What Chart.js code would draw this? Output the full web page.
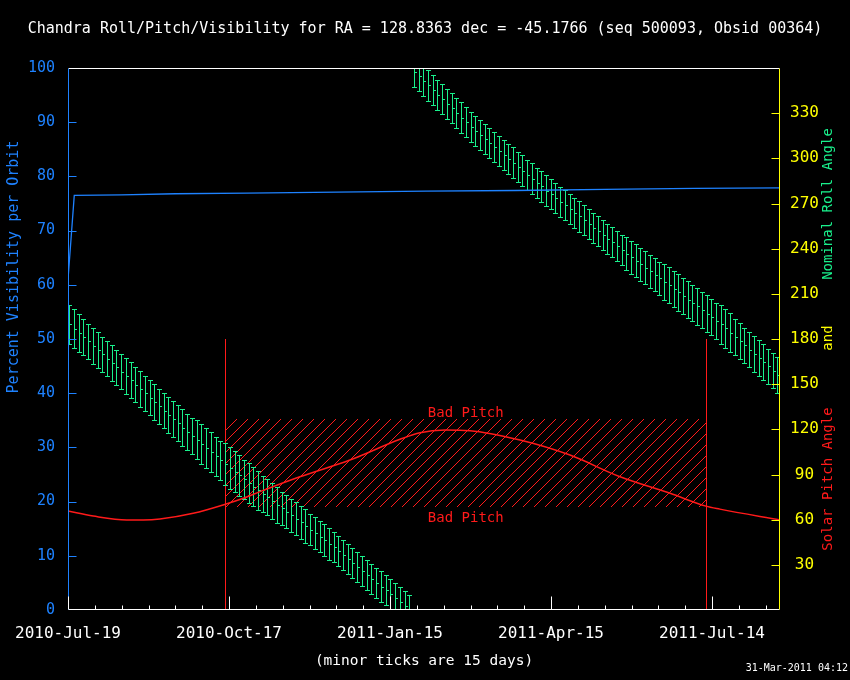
<!DOCTYPE html>
<html>
<head>
<meta charset="utf-8">
<title>Chandra Roll/Pitch/Visibility</title>
<script src="https://cdn.jsdelivr.net/npm/chart.js@4.4.1/dist/chart.umd.min.js"></script>
<style>
  html, body { margin: 0; padding: 0; background: #000; }
  canvas { display: block; background: #000; }
</style>
</head>
<body>
<canvas id="chart" width="850" height="680"></canvas>
<script>
const titleText = 'Chandra Roll/Pitch/Visibility for RA = 128.8363 dec = -45.1766 (seq 500093, Obsid 00364)';
const stampText = '31-Mar-2011 04:12';

// x axis: days since 2010-Jul-19
const dayMax = 398;
const xTickDays = [0, 90, 180, 270, 360];
const xTickLabels = ['2010-Jul-19', '2010-Oct-17', '2011-Jan-15', '2011-Apr-15', '2011-Jul-14'];
const minorTickDays = 15;

// percent visibility per orbit (left axis)
const visDays = [0, 3.5, 30, 60, 100, 150, 200, 250, 300, 350, 398];
const visPct = [61, 76.5, 76.6, 76.8, 76.9, 77.1, 77.3, 77.4, 77.6, 77.8, 77.9];

// solar pitch angle (right axis)
const pitchDays = [0, 14.1, 32.8, 42.1, 51.4, 70.0, 87.9, 98.0, 107.3, 129.6, 157.6, 185.6,
  196.8, 210.7, 224.7, 252.7, 280.6, 308.6, 336.6, 356.6, 364.4, 398];
const pitchDeg = [65.7, 62.4, 59.8, 59.8, 60.4, 64.2, 70.2, 74.2, 78.6, 88.5, 99.6, 113.4,
  117.8, 119.5, 119.1, 112.9, 102.9, 88.5, 77.5, 69.0, 67.0, 59.8];

// nominal roll angle, one bar per orbit (right axis)
const orbitDays = [
  0.7, 3.3, 6.0, 8.6, 11.3, 13.9, 16.5, 19.2, 21.8, 24.5,
  27.1, 29.7, 32.4, 35.0, 37.6, 40.3, 42.9, 45.6, 48.2, 50.8,
  53.5, 56.1, 58.8, 61.4, 64.0, 66.7, 69.3, 72.0, 74.6, 77.2,
  79.9, 82.5, 85.1, 87.8, 90.4, 93.1, 95.7, 98.3, 101.0, 103.6,
  106.3, 108.9, 111.5, 114.2, 116.8, 119.5, 122.1, 124.7, 127.4, 130.0,
  132.7, 135.3, 137.9, 140.6, 143.2, 145.8, 148.5, 151.1, 153.8, 156.4,
  159.0, 161.7, 164.3, 167.0, 169.6, 172.2, 174.9, 177.5, 180.2, 182.8,
  185.4, 188.1, 190.7, 193.3, 196.0, 198.6, 201.3, 203.9, 206.5, 209.2,
  211.8, 214.5, 217.1, 219.7, 222.4, 225.0, 227.7, 230.3, 232.9, 235.6,
  238.2, 240.9, 243.5, 246.1, 248.8, 251.4, 254.0, 256.7, 259.3, 262.0,
  264.6, 267.2, 269.9, 272.5, 275.2, 277.8, 280.4, 283.1, 285.7, 288.3,
  291.0, 293.6, 296.3, 298.9, 301.5, 304.2, 306.8, 309.5, 312.1, 314.7,
  317.4, 320.0, 322.7, 325.3, 327.9, 330.6, 333.2, 335.9, 338.5, 341.1,
  343.8, 346.4, 349.0, 351.7, 354.3, 357.0, 359.6, 362.2, 364.9, 367.5,
  370.2, 372.8, 375.4, 378.1, 380.7, 383.4, 386.0, 388.6, 391.3, 393.9,
  396.6
];
const rollDeg = [
  189.8, 186.9, 184.1, 181.2, 178.4, 175.5, 172.6, 169.8, 166.9, 164.1,
  161.2, 158.3, 155.4, 152.6, 149.7, 146.8, 143.9, 141.0, 138.2, 135.3,
  132.4, 129.5, 126.7, 124.0, 121.2, 118.5, 115.8, 113.1, 110.3, 107.6,
  104.9, 102.2, 99.5, 96.8, 94.3, 91.9, 89.4, 86.9, 84.4, 82.0,
  79.5, 77.1, 74.8, 72.4, 70.0, 67.7, 65.3, 62.9, 60.5, 58.2,
  55.8, 53.4, 51.1, 48.7, 46.3, 43.9, 41.6, 39.0, 36.4, 33.8,
  31.2, 28.6, 26.0, 23.4, 20.8, 18.2, 15.6, 13.0, 10.4, 7.8,
  5.2, 2.6, 0.0, 357.3, 354.4, 351.4, 348.4, 345.4, 342.3, 339.3,
  336.2, 333.2, 330.2, 327.1, 324.1, 321.0, 318.4, 315.7, 313.1, 310.4,
  307.8, 305.1, 302.5, 299.8, 297.2, 294.5, 291.9, 289.2, 286.6, 283.9,
  281.3, 278.6, 276.1, 273.7, 271.2, 268.8, 266.3, 263.9, 261.4, 258.9,
  256.5, 254.0, 251.6, 249.1, 246.6, 244.2, 241.7, 239.3, 236.7, 234.4,
  232.0, 229.7, 227.3, 225.0, 222.6, 220.3, 218.0, 215.6, 213.3, 210.9,
  208.6, 206.2, 203.9, 201.6, 199.2, 196.9, 194.5, 192.2, 189.8, 187.0,
  184.2, 181.4, 178.6, 175.8, 173.0, 170.2, 167.4, 164.6, 161.8, 159.0,
  156.2
];
const rollErr = [
  13, 13, 12.5, 11.8, 11.8, 11.8, 11.8, 11.8, 11.8, 11.8,
  11.8, 11.8, 11.8, 11.8, 11.8, 11.8, 11.8, 11.8, 11.8, 11.8,
  11.8, 11.8, 12, 12, 12, 12, 12, 13, 13, 13,
  13, 13, 13, 13.8, 13.8, 13.8, 13.8, 13, 13, 13,
  13, 12, 12, 12, 12, 11, 11, 11, 11, 11,
  11, 10.5, 10.5, 10.5, 10.5, 10.5, 10, 10, 10, 10,
  10, 10, 10, 10, 10, 10, 10, 10, 10, 10,
  10, 10, 10, 10, 10, 10, 10, 10, 10, 10,
  10, 10, 10, 10, 10, 10, 10, 10, 10, 10,
  10, 10, 10, 10, 10, 10, 10, 10, 10, 10,
  10, 10, 10, 10, 10, 10, 10, 10, 10, 10,
  10, 10, 10, 10, 10, 10, 10, 10, 11, 11,
  11, 11, 11, 11, 11, 11, 12, 12, 12, 12,
  12, 12, 12, 12, 12, 12, 12, 12, 12.8, 12.8,
  12.8, 11.8, 11.8, 11.8, 11.8, 11.8, 11.8, 11.8, 11.8, 11.8,
  11.8
];

// bad pitch zone
const badPitchDays = [87.9, 356.8];
const badPitchDeg = [69.3, 126.7];
const badPitchMarkTop = 50;   // left-axis value where the zone markers end
const badPitchLabel = 'Bad Pitch';

const WHITE = '#ffffff';
const BLUE = '#1e82ff';
const GREEN = '#19f08c';
const RED = '#ff1a1a';
const YELLOW = '#ffff00';
const FONT = 'DejaVu Sans Mono';

Chart.defaults.font.family = FONT;
Chart.defaults.font.size = 15;

const decor = {
  id: 'decor',
  beforeDatasetsDraw(chart) {
    const {ctx, chartArea: a, scales: {x, y, y2}} = chart;
    ctx.save();
    ctx.beginPath();
    ctx.rect(a.left, a.top, a.width, a.height);
    ctx.clip();

    // hatched bad pitch box, drawn pixel by pixel like the original plotter
    const x0 = Math.round(x.getPixelForValue(badPitchDays[0]));
    const x1 = Math.round(x.getPixelForValue(badPitchDays[1]));
    const yTop = Math.round(y2.getPixelForValue(badPitchDeg[1]));
    const yBot = Math.round(y2.getPixelForValue(badPitchDeg[0]));
    const h = yBot - yTop;
    ctx.fillStyle = RED;
    for (let sx = x0 - h; sx < x1; sx += 11) {
      for (let t = 0; t <= h; t++) {
        const px = sx + t;
        if (px < x0 || px > x1) continue;
        ctx.fillRect(px, yBot - t, 1, 1);
      }
    }

    // zone markers
    ctx.strokeStyle = RED;
    ctx.lineWidth = 1;
    ctx.beginPath();
    badPitchDays.forEach(d => {
      const px = Math.round(x.getPixelForValue(d)) + 0.5;
      ctx.moveTo(px, y.getPixelForValue(0));
      ctx.lineTo(px, y.getPixelForValue(badPitchMarkTop));
    });
    ctx.stroke();

    // roll angle error bars
    ctx.strokeStyle = GREEN;
    ctx.fillStyle = GREEN;
    ctx.beginPath();
    orbitDays.forEach((d, i) => {
      const px = Math.round(x.getPixelForValue(d)) + 0.5;
      const hi = Math.round(y2.getPixelForValue(rollDeg[i] + rollErr[i])) + 0.5;
      const lo = Math.round(y2.getPixelForValue(rollDeg[i] - rollErr[i])) + 0.5;
      ctx.moveTo(px, hi); ctx.lineTo(px, lo);
      ctx.moveTo(px - 2.5, hi); ctx.lineTo(px + 2.5, hi);
      ctx.moveTo(px - 2.5, lo); ctx.lineTo(px + 2.5, lo);
    });
    ctx.stroke();
    orbitDays.forEach((d, i) => {
      const px = Math.round(x.getPixelForValue(d));
      const mid = Math.round(y2.getPixelForValue(rollDeg[i]));
      ctx.fillRect(px + 1, mid, 2, 1);
    });
    ctx.restore();
  },
  afterDraw(chart) {
    const {ctx, chartArea: a, scales: {x, y, y2}} = chart;
    ctx.save();
    ctx.lineWidth = 1;

    // frame
    const L = a.left + 0.5, R = a.right - 0.5, T = a.top + 0.5, B = a.bottom - 0.5;
    ctx.strokeStyle = WHITE;
    ctx.beginPath();
    ctx.moveTo(L, T); ctx.lineTo(R, T);
    ctx.moveTo(L, B); ctx.lineTo(R, B);
    ctx.stroke();
    ctx.strokeStyle = BLUE;
    ctx.beginPath(); ctx.moveTo(L, T); ctx.lineTo(L, B); ctx.stroke();
    ctx.strokeStyle = YELLOW;
    ctx.beginPath(); ctx.moveTo(R, T); ctx.lineTo(R, B); ctx.stroke();

    // bottom ticks, major and minor
    ctx.strokeStyle = WHITE;
    ctx.beginPath();
    for (let d = 0; d <= dayMax; d += minorTickDays) {
      const px = Math.round(x.getPixelForValue(d)) + 0.5;
      const len = xTickDays.includes(d) ? 13 : 4;
      ctx.moveTo(px, B); ctx.lineTo(px, B - len);
    }
    ctx.stroke();

    // left ticks
    ctx.strokeStyle = BLUE;
    ctx.beginPath();
    y.ticks.forEach(t => {
      if (t.value <= y.min || t.value >= y.max) return;
      const py = Math.round(y.getPixelForValue(t.value)) + 0.5;
      ctx.moveTo(L, py); ctx.lineTo(L + 8, py);
    });
    ctx.stroke();

    // right ticks
    ctx.strokeStyle = YELLOW;
    ctx.beginPath();
    y2.ticks.forEach(t => {
      if (t.value <= y2.min || t.value >= y2.max) return;
      const py = Math.round(y2.getPixelForValue(t.value)) + 0.5;
      ctx.moveTo(R - 8, py); ctx.lineTo(R, py);
    });
    ctx.stroke();

    // bad pitch labels
    const cx = x.getPixelForValue((badPitchDays[0] + badPitchDays[1]) / 2);
    ctx.font = '14px "' + FONT + '"';
    ctx.fillStyle = RED;
    ctx.textAlign = 'center';
    ctx.textBaseline = 'alphabetic';
    ctx.fillText(badPitchLabel, cx, y2.getPixelForValue(badPitchDeg[1]) - 2);
    ctx.fillText(badPitchLabel, cx, y2.getPixelForValue(badPitchDeg[0]) + 16);

    // axis titles
    const vtext = (txt, px, py, color) => {
      ctx.save();
      ctx.translate(px, py);
      ctx.rotate(-Math.PI / 2);
      ctx.fillStyle = color;
      ctx.textAlign = 'center';
      ctx.textBaseline = 'middle';
      ctx.fillText(txt, 0, 0);
      ctx.restore();
    };
    ctx.font = '15px "' + FONT + '"';
    vtext('Percent Visibility per Orbit', 14, 267, BLUE);
    ctx.font = '14px "' + FONT + '"';
    vtext('Nominal Roll Angle', 828, 204, GREEN);
    vtext('and', 828, 338, YELLOW);
    vtext('Solar Pitch Angle', 828, 479, RED);

    // timestamp
    ctx.font = '10px "' + FONT + '"';
    ctx.fillStyle = WHITE;
    ctx.textAlign = 'right';
    ctx.fillText(stampText, 848, 671);
    ctx.restore();
  }
};

new Chart(document.getElementById('chart'), {
  type: 'line',
  data: {
    datasets: [
      {
        label: 'Percent Visibility',
        data: visDays.map((d, i) => ({x: d, y: visPct[i]})),
        yAxisID: 'y',
        borderColor: BLUE,
        borderWidth: 1.3,
        pointRadius: 0,
        tension: 0
      },
      {
        label: 'Solar Pitch Angle',
        data: pitchDays.map((d, i) => ({x: d, y: pitchDeg[i]})),
        yAxisID: 'y2',
        borderColor: RED,
        borderWidth: 1.5,
        pointRadius: 0,
        cubicInterpolationMode: 'monotone'
      },
      {
        label: 'Nominal Roll Angle',
        data: orbitDays.map((d, i) => ({x: d, y: rollDeg[i]})),
        yAxisID: 'y2',
        showLine: false,
        pointRadius: 0
      }
    ]
  },
  options: {
    responsive: false,
    animation: false,
    events: [],
    layout: { padding: 0 },
    plugins: {
      legend: { display: false },
      tooltip: { enabled: false },
      title: {
        display: true,
        text: titleText,
        color: WHITE,
        font: { size: 15, weight: 'normal' },
        padding: { top: 20, bottom: 30 }
      }
    },
    scales: {
      x: {
        type: 'linear',
        position: 'bottom',
        min: 0,
        max: dayMax,
        grid: { display: false, drawTicks: false },
        border: { display: false },
        afterBuildTicks: s => { s.ticks = xTickDays.map(v => ({value: v})); },
        afterFit: s => { s.height = 70; },
        ticks: {
          color: WHITE,
          font: { size: 16 },
          padding: 14,
          autoSkip: false,
          maxRotation: 0,
          callback: v => xTickLabels[xTickDays.indexOf(v)]
        },
        title: {
          display: true,
          text: '(minor ticks are 15 days)',
          color: WHITE,
          font: { size: 14.5 },
          padding: { top: 0, bottom: 10 }
        }
      },
      y: {
        type: 'linear',
        position: 'left',
        min: 0,
        max: 100,
        grid: { display: false, drawTicks: false },
        border: { display: false },
        afterFit: s => { s.width = 68; },
        ticks: { color: BLUE, stepSize: 10, padding: 13 }
      },
      y2: {
        type: 'linear',
        position: 'right',
        min: 0,
        max: 360,
        grid: { display: false, drawTicks: false },
        border: { display: false },
        afterFit: s => { s.width = 70; },
        ticks: {
          color: YELLOW,
          font: { size: 16 },
          stepSize: 30,
          padding: 10,
          crossAlign: 'center',
          callback: v => (v === 0 || v === 360) ? null : v
        }
      }
    }
  },
  plugins: [decor]
});
</script>
</body>
</html>
